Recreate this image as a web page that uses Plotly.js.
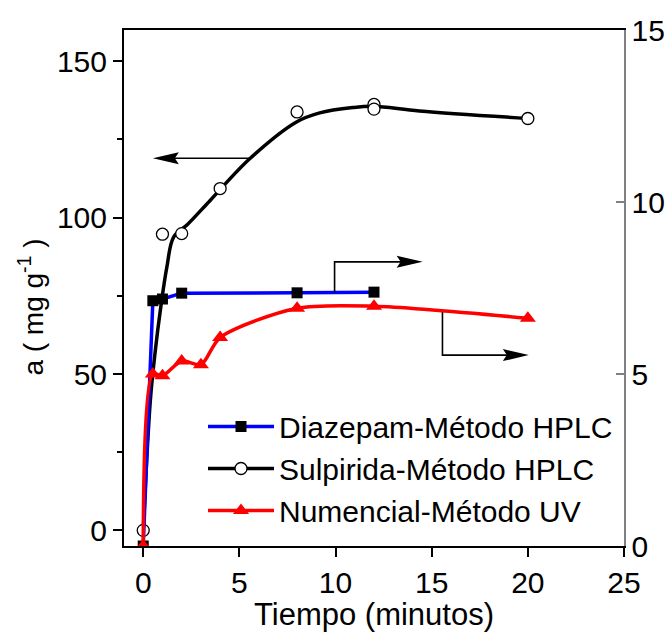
<!DOCTYPE html>
<html><head><meta charset="utf-8">
<script src="https://cdn.plot.ly/plotly-3.0.1.min.js"></script>
<style>html,body{margin:0;padding:0;background:#fff}</style>
</head><body>
<div id="chart" style="width:671px;height:632px"></div>
<script>
// ---- data ----
const timeDiazepam = [0, 0.5, 1, 2, 8, 12];
const diazepam = [0, 7.13, 7.18, 7.35, 7.36, 7.38];          // right axis

const timeSulpirida = [0, 1, 2, 4, 8, 12, 12, 20];
const sulpirida = [0, 94.7, 94.9, 109.3, 133.8, 136.2, 134.7, 131.7]; // left axis

// smooth fitted curve drawn through the Sulpirida points
const timeSulpiridaCurve = [0, 0.37, 0.63, 0.89, 1.23, 1.58, 2.3, 3.48, 5.55, 7.97, 9.18, 10.9, 11.97, 14.36, 20];
const sulpiridaCurve = [0, 41.6, 57.6, 70.4, 84.2, 93.8, 97.8, 105.5, 118.9, 130.6, 133.5, 135.2, 135.6, 134.1, 131.7];

const timeNumencial = [0, 0.5, 1, 2, 3, 4, 8, 12, 20];
const numencial = [0, 5.0, 4.95, 5.38, 5.27, 6.06, 6.91, 6.97, 6.62]; // right axis

const seriesNames = ['Diazepam-Método HPLC', 'Sulpirida-Método HPLC', 'Numencial-Método UV'];
const yTitle = 'a ( mg g<sup>-1</sup> )';
const xTitle = 'Tiempo (minutos)';

const FONT = 'Liberation Sans, Arial, sans-serif';

const traces = [
  {
    x: timeDiazepam, y: diazepam, yaxis: 'y2', name: seriesNames[0],
    mode: 'lines+markers', line: {color: '#0000ff', width: 3.5},
    marker: {symbol: 'square', color: '#000000', size: 11}
  },
  {
    x: timeSulpiridaCurve, y: sulpiridaCurve, yaxis: 'y', showlegend: false,
    mode: 'lines', line: {color: '#000000', width: 3.5, shape: 'spline', smoothing: 1}
  },
  {
    x: timeSulpirida, y: sulpirida, yaxis: 'y', showlegend: false,
    mode: 'markers',
    marker: {symbol: 'circle', color: '#ffffff', size: 12, line: {color: '#000000', width: 1.3}}
  },
  {
    x: [null], y: [null], yaxis: 'y', name: seriesNames[1],
    mode: 'lines+markers', line: {color: '#000000', width: 3.5},
    marker: {symbol: 'circle', color: '#ffffff', size: 12, line: {color: '#000000', width: 1.3}}
  },
  {
    x: timeNumencial, y: numencial, yaxis: 'y2', name: seriesNames[2],
    mode: 'lines+markers', line: {color: '#ff0000', width: 3.5, shape: 'spline', smoothing: 0.8},
    marker: {symbol: 'triangle-up', color: '#ff0000', size: 14}
  }
];

const arrowLine = {color: '#000000', width: 1.6};
const headLeft = 'M0,0 L26,6 L22,0 L26,-6 Z';
const headRight = 'M0,0 L-26,6 L-22,0 L-26,-6 Z';

const layout = {
  width: 671, height: 632,
  margin: {l: 124, r: 47, t: 30, b: 86},
  paper_bgcolor: '#ffffff', plot_bgcolor: '#ffffff',
  font: {family: FONT, size: 30, color: '#000000'},
  showlegend: true,
  legend: {
    x: 0.158, y: 0.282, xanchor: 'left', yanchor: 'top',
    bgcolor: 'rgba(0,0,0,0)', borderwidth: 0,
    font: {family: FONT, size: 30, color: '#000000'},
    itemwidth: 66, traceorder: 'normal'
  },
  xaxis: {
    range: [-1, 25], dtick: 5, tick0: 0,
    showgrid: false, zeroline: false,
    showline: true, linecolor: '#000000', linewidth: 2, mirror: true,
    ticks: 'outside', ticklen: 9, tickwidth: 2, tickcolor: '#000000',
    tickfont: {family: FONT, size: 30},
    title: {text: xTitle, font: {family: FONT, size: 31}, standoff: 5}
  },
  yaxis: {
    range: [-5, 160], dtick: 50, tick0: 0,
    showgrid: false, zeroline: false,
    showline: true, linecolor: '#000000', linewidth: 2,
    ticks: 'outside', ticklen: 9, tickwidth: 2, tickcolor: '#000000',
    minor: {ticks: 'outside', dtick: 25, ticklen: 5, tickwidth: 2, tickcolor: '#000000', showgrid: false},
    tickfont: {family: FONT, size: 30}
  },
  yaxis2: {
    overlaying: 'y', side: 'right',
    range: [0, 15], dtick: 5, tick0: 0,
    showgrid: false, zeroline: false,
    showline: true, linecolor: '#808080', linewidth: 1.5,
    ticks: 'inside', ticklen: 8, tickwidth: 1.5, tickcolor: '#808080',
    tickfont: {family: FONT, size: 30}
  },
  annotations: [
    {text: yTitle, xref: 'paper', yref: 'paper', x: -0.186, y: 0.462,
     xanchor: 'center', yanchor: 'middle', textangle: -90, showarrow: false,
     font: {family: FONT, size: 28, color: '#000000'}}
  ],
  shapes: [
    // Sulpirida -> left axis
    {type: 'line', xref: 'x', yref: 'y', x0: 1.0, x1: 5.55, y0: 119, y1: 119, line: arrowLine},
    {type: 'path', xref: 'x', yref: 'y', xsizemode: 'pixel', ysizemode: 'pixel', xanchor: 0.5, yanchor: 119,
     path: headLeft, fillcolor: '#000000', line: {width: 0}},
    // Diazepam -> right axis
    {type: 'path', xref: 'x', yref: 'y2', path: 'M9.95,7.36 L9.95,8.26 L14.0,8.26', line: arrowLine},
    {type: 'path', xref: 'x', yref: 'y2', xsizemode: 'pixel', ysizemode: 'pixel', xanchor: 14.53, yanchor: 8.26,
     path: headRight, fillcolor: '#000000', line: {width: 0}},
    // Numencial -> right axis
    {type: 'path', xref: 'x', yref: 'y2', path: 'M15.56,6.8 L15.56,5.55 L19.6,5.55', line: arrowLine},
    {type: 'path', xref: 'x', yref: 'y2', xsizemode: 'pixel', ysizemode: 'pixel', xanchor: 20.05, yanchor: 5.55,
     path: headRight, fillcolor: '#000000', line: {width: 0}}
  ]
};

Plotly.newPlot('chart', traces, layout, {displayModeBar: false, staticPlot: true});
</script>
</body></html>
